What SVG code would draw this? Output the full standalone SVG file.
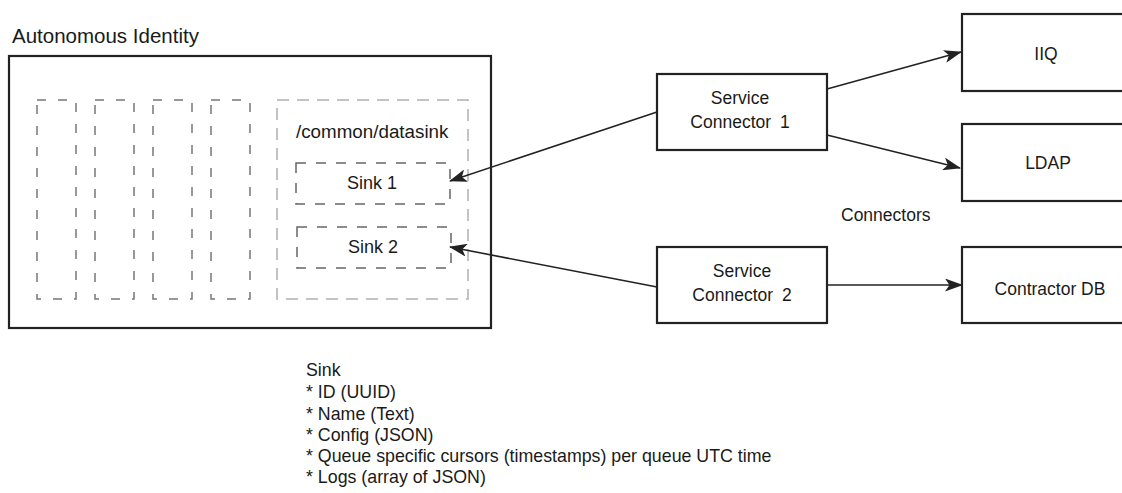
<svg xmlns="http://www.w3.org/2000/svg" width="1122" height="493" viewBox="0 0 1122 493">
<defs>
<style>
text{font-family:"Liberation Sans",Arial,sans-serif;fill:#1a1a1a;font-size:17.5px}
.c{text-anchor:middle}
.note{font-size:17.8px}
.box{fill:#fff;stroke:#222;stroke-width:2.2}
.col{fill:none;stroke:#777;stroke-width:1.5;stroke-dasharray:9 12}
.cont{fill:none;stroke:#b0b0b0;stroke-width:1.5;stroke-dasharray:12 8}
.sink{fill:none;stroke:#666;stroke-width:1.5;stroke-dasharray:10 10}
.edge{fill:none;stroke:#222;stroke-width:1.6;marker-end:url(#ah)}
</style>
<marker id="ah" viewBox="0 0 18 13" refX="17" refY="6.5" markerWidth="18" markerHeight="13" markerUnits="userSpaceOnUse" orient="auto">
<path d="M0,0 L18,6.5 L0,13 L4.5,6.5 Z" fill="#222"/>
</marker>
</defs>
<rect width="1122" height="493" fill="#fff"/>

<g id="autonomous-identity">
<text x="12" y="43" style="font-size:20.5px">Autonomous Identity</text>
<rect class="box" x="9" y="56" width="482" height="272"/>
<rect class="col" x="37" y="100" width="39" height="199"/>
<rect class="col" x="95" y="100" width="39" height="199"/>
<rect class="col" x="153" y="100" width="39" height="199"/>
<rect class="col" x="211" y="100" width="39" height="199"/>
</g>

<g id="datasink">
<rect class="cont" x="277" y="100" width="191" height="199"/>
<text x="296" y="138" style="font-size:18.8px">/common/datasink</text>
</g>

<g id="sink1">
<rect class="sink" x="296" y="163" width="154" height="41"/>
<text class="c" x="372" y="189" style="font-size:18px">Sink 1</text>
</g>

<g id="sink2">
<rect class="sink" x="297" y="227" width="154" height="41"/>
<text class="c" x="373" y="253" style="font-size:18px">Sink 2</text>
</g>

<g id="service-connector-1">
<rect class="box" x="657" y="74" width="170" height="76"/>
<text class="c" x="740" y="104">Service</text>
<text class="c" x="740" y="128" style="word-spacing:4px">Connector 1</text>
</g>

<g id="service-connector-2">
<rect class="box" x="657" y="247" width="170" height="76"/>
<text class="c" x="742" y="277">Service</text>
<text class="c" x="742" y="301" style="word-spacing:4px">Connector 2</text>
</g>

<g id="iiq">
<rect class="box" x="962" y="14" width="170" height="77"/>
<text class="c" x="1046" y="60">IIQ</text>
</g>

<g id="ldap">
<rect class="box" x="962" y="124" width="170" height="77"/>
<text class="c" x="1048" y="169">LDAP</text>
</g>

<g id="contractor-db">
<rect class="box" x="962" y="247" width="170" height="76"/>
<text class="c" x="1050" y="295">Contractor DB</text>
</g>

<g id="connectors-label">
<text x="841" y="221">Connectors</text>
</g>

<g id="connectors">
<path class="edge" d="M657,112 L450,181"/>
<path class="edge" d="M827,89 L961,52"/>
<path class="edge" d="M827,135 L960,168"/>
<path class="edge" d="M657,287 L450,247"/>
<path class="edge" d="M827,285 L962,285"/>
</g>

<g id="sink-notes">
<text class="note" x="306" y="376">Sink</text>
<text class="note" x="306" y="398">* ID (UUID)</text>
<text class="note" x="306" y="420">* Name (Text)</text>
<text class="note" x="306" y="441">* Config (JSON)</text>
<text class="note" x="306" y="462">* Queue specific cursors (timestamps) per queue UTC time</text>
<text class="note" x="306" y="483">* Logs (array of JSON)</text>
</g>
</svg>
